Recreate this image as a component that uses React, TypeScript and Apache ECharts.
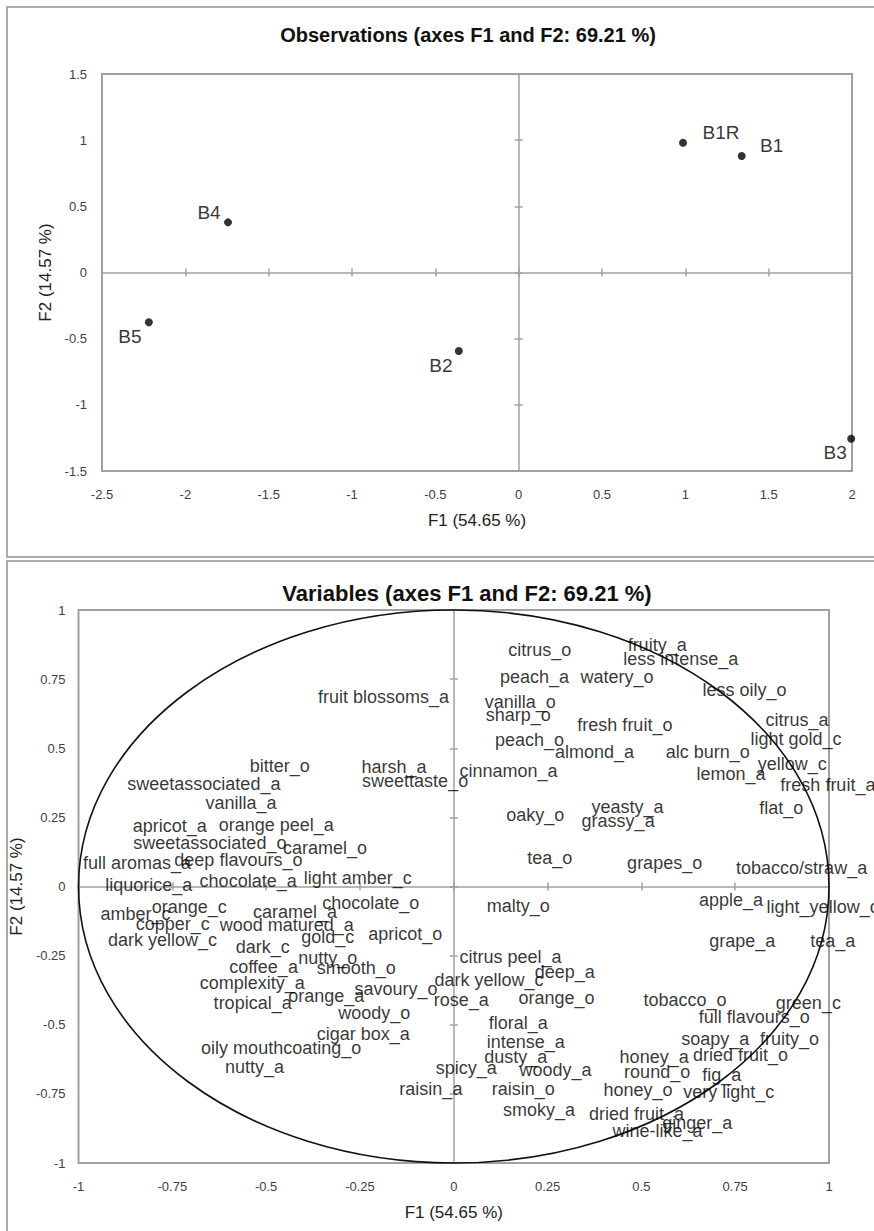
import React, { useEffect, useRef } from 'react';
import * as echarts from 'echarts';

// ---------- Observations (F1, F2 factor scores) ----------
const obsNames = ['B1R', 'B1', 'B4', 'B5', 'B2', 'B3'];
const obsF1 = [0.986, 1.338, -1.744, -2.219, -0.359, 1.995];
const obsF2 = [0.98, 0.88, 0.379, -0.376, -0.593, -1.256];

// ---------- Variables (F1, F2 correlations) ----------
const varNames = [
  'fruit blossoms_a', 'bitter_o', 'sweetassociated_a', 'harsh_a', 'sweettaste_o',
  'vanilla_a', 'apricot_a', 'orange peel_a', 'sweetassociated_o', 'caramel_o',
  'full aromas_a', 'deep flavours_o', 'liquorice_a', 'chocolate_a', 'light amber_c',
  'citrus_o', 'fruity_a', 'less intense_a', 'peach_a', 'watery_o',
  'less oily_o', 'vanilla_o', 'sharp_o', 'fresh fruit_o', 'citrus_a',
  'light gold_c', 'peach_o', 'almond_a', 'alc burn_o', 'yellow_c',
  'cinnamon_a', 'lemon_a', 'fresh fruit_a', 'flat_o', 'oaky_o',
  'yeasty_a', 'grassy_a', 'tea_o', 'grapes_o', 'tobacco/straw_a',
  'chocolate_o', 'amber_c', 'orange_c', 'caramel_a', 'copper_c',
  'wood matured_a', 'dark yellow_c', 'gold_c', 'apricot_o', 'dark_c',
  'nutty_o', 'coffee_a', 'smooth_o', 'complexity_a', 'orange_a',
  'savoury_o', 'tropical_a', 'woody_o', 'cigar box_a', 'oily mouthcoating_o',
  'nutty_a', 'raisin_a', 'spicy_a', 'malty_o', 'apple_a',
  'light_yellow_c', 'grape_a', 'tea_a', 'citrus peel_a', 'deep_a',
  'dark yellow_c', 'rose_a', 'orange_o', 'tobacco_o', 'green_c',
  'floral_a', 'full flavours_o', 'intense_a', 'soapy_a', 'fruity_o',
  'dusty_a', 'honey_a', 'dried fruit_o', 'woody_a', 'round_o',
  'fig_a', 'raisin_o', 'honey_o', 'very light_c', 'smoky_a',
  'dried fruit_a', 'ginger_a', 'wine-like_a',
];
const varF1 = [
  -0.187, -0.464, -0.666, -0.159, -0.103,
  -0.567, -0.757, -0.473, -0.650, -0.343,
  -0.844, -0.574, -0.813, -0.548, -0.256,
  0.229, 0.542, 0.605, 0.215, 0.435,
  0.775, 0.177, 0.172, 0.456, 0.915,
  0.912, 0.202, 0.375, 0.677, 0.902,
  0.146, 0.739, 0.997, 0.873, 0.217,
  0.463, 0.438, 0.256, 0.562, 0.927,
  -0.221, -0.848, -0.705, -0.423, -0.749,
  -0.445, -0.776, -0.336, -0.129, -0.509,
  -0.336, -0.507, -0.260, -0.537, -0.340,
  -0.154, -0.536, -0.212, -0.241, -0.460,
  -0.531, -0.061, 0.033, 0.172, 0.739,
  0.983, 0.769, 1.01, 0.151, 0.296,
  0.094, 0.02, 0.274, 0.616, 0.945,
  0.172, 0.801, 0.192, 0.697, 0.895,
  0.165, 0.534, 0.764, 0.271, 0.542,
  0.714, 0.185, 0.491, 0.733, 0.227,
  0.487, 0.649, 0.543,
];
const varF2 = [
  0.687, 0.434, 0.371, 0.432, 0.38,
  0.301, 0.217, 0.223, 0.156, 0.138,
  0.084, 0.096, 0.005, 0.02, 0.03,
  0.856, 0.874, 0.824, 0.757, 0.757,
  0.711, 0.669, 0.621, 0.585, 0.603,
  0.534, 0.530, 0.486, 0.486, 0.442,
  0.416, 0.406, 0.367, 0.283, 0.259,
  0.287, 0.237, 0.102, 0.086, 0.066,
  -0.061, -0.101, -0.073, -0.091, -0.137,
  -0.139, -0.194, -0.182, -0.173, -0.218,
  -0.258, -0.290, -0.296, -0.350, -0.395,
  -0.371, -0.421, -0.456, -0.532, -0.584,
  -0.652, -0.732, -0.656, -0.069, -0.049,
  -0.075, -0.197, -0.197, -0.256, -0.308,
  -0.339, -0.411, -0.405, -0.411, -0.423,
  -0.492, -0.471, -0.564, -0.553, -0.550,
  -0.616, -0.616, -0.608, -0.664, -0.671,
  -0.683, -0.731, -0.737, -0.743, -0.809,
  -0.821, -0.854, -0.884,
];

// correlation circle radius
const circleRadius = 1;

// axis ranges / tick steps
const obsXRange = [-2.5, 2];
const obsYRange = [-1.5, 1.5];
const obsStep = 0.5;
const varRange = [-1, 1];
const varStep = 0.25;

const titleObs = 'Observations (axes F1 and F2: 69.21 %)';
const titleVar = 'Variables (axes F1 and F2: 69.21 %)';
const nameF1 = 'F1 (54.65 %)';
const nameF2 = 'F2 (14.57 %)';

// label placement (style) for observation points
const obsLabelOffset: Record<string, number[]> = {
  B1R: [38, -10],
  B1: [30, -11],
  B4: [-19, -10],
  B5: [-19, 14],
  B2: [-18, 15],
  B3: [-16, 14],
};

const FONT = '"Liberation Sans", Arial, Helvetica, sans-serif';
const GRAY = '#a0a0a0';

export default function App() {
  const ref = useRef<HTMLDivElement>(null);

  useEffect(() => {
    if (!ref.current) return;
    const chart = echarts.init(ref.current, null, { renderer: 'svg' });

    const tickLabel = { color: '#404040', fontSize: 13, fontFamily: FONT };
    const nameStyle = { color: '#222', fontSize: 17, fontFamily: FONT };

    const mkAxes = (
      dim: 'x' | 'y',
      gridIndex: number,
      range: number[],
      step: number,
      labelMargin: number,
      name: string,
      nameGap: number
    ) => {
      const pos = dim === 'x' ? 'bottom' : 'left';
      const base = { gridIndex, type: 'value', min: range[0], max: range[1], interval: step, position: pos, splitLine: { show: false } };
      return [
        {
          ...base,
          axisLine: { show: false, onZero: false },
          axisTick: { show: false },
          axisLabel: { ...tickLabel, margin: labelMargin },
          name,
          nameLocation: 'middle',
          nameGap,
          nameTextStyle: nameStyle,
        },
        {
          ...base,
          axisLine: { show: true, onZero: true, lineStyle: { color: GRAY, width: 1.5 } },
          axisTick: { show: true, inside: false, length: 4, lineStyle: { color: GRAY, width: 1.5 } },
          axisLabel: { show: false },
        },
        {
          ...base,
          axisLine: { show: false, onZero: true },
          axisTick: { show: true, inside: true, length: 4, lineStyle: { color: GRAY, width: 1.5 } },
          axisLabel: { show: false },
        },
      ];
    };

    const option: any = {
      animation: false,
      backgroundColor: '#fff',
      textStyle: { fontFamily: FONT },
      grid: [
        { left: 102, top: 74, width: 750, height: 397, show: true, borderColor: GRAY, borderWidth: 2 },
        { left: 60, top: 610, width: 769, height: 553, show: true, borderColor: GRAY, borderWidth: 2 },
      ],
      xAxis: [
        ...mkAxes('x', 0, obsXRange, obsStep, 17, nameF1, 41),
        ...mkAxes('x', 1, varRange, varStep, 17, nameF1, 41),
      ],
      yAxis: [
        ...mkAxes('y', 0, obsYRange, obsStep, 15, nameF2, 45),
        ...mkAxes('y', 1, varRange, varStep, 13, nameF2, 25),
      ],
      graphic: [
        {
          type: 'rect', silent: true, z: -10,
          shape: { x: 7, y: 7, width: 900, height: 550 },
          style: { fill: 'none', stroke: '#ababab', lineWidth: 2 },
        },
        {
          type: 'rect', silent: true, z: -10,
          shape: { x: 7, y: 561, width: 900, height: 720 },
          style: { fill: 'none', stroke: '#ababab', lineWidth: 2 },
        },
        {
          type: 'text', x: 468, y: 35,
          style: { text: titleObs, fontSize: 20, fontWeight: 'bold', fontFamily: FONT, fill: '#111', align: 'center', verticalAlign: 'middle' },
        },
        {
          type: 'text', x: 467, y: 593,
          style: { text: titleVar, fontSize: 22, fontWeight: 'bold', fontFamily: FONT, fill: '#111', align: 'center', verticalAlign: 'middle' },
        },
      ],
      series: [
        {
          type: 'scatter',
          xAxisIndex: 0,
          yAxisIndex: 0,
          clip: false,
          symbolSize: 8,
          itemStyle: { color: '#000' },
          z: 5,
          label: {
            show: true,
            position: 'inside',
            formatter: '{b}',
            fontSize: 19,
            color: '#000',
            textBorderWidth: 0,
            fontFamily: FONT,
          },
          data: obsNames.map((n, i) => ({
            name: n,
            value: [obsF1[i], obsF2[i]],
            label: { offset: obsLabelOffset[n] || [0, 0] },
          })),
        },
        {
          type: 'custom',
          xAxisIndex: 3,
          yAxisIndex: 3,
          silent: true,
          clip: false,
          z: 3,
          data: [[0, 0, circleRadius]],
          renderItem: (params: any, api: any) => {
            const r = api.value(2);
            const c = api.coord([api.value(0), api.value(1)]);
            const p = api.coord([api.value(0) + r, api.value(1) + r]);
            return {
              type: 'ellipse',
              shape: { cx: c[0], cy: c[1], rx: Math.abs(p[0] - c[0]), ry: Math.abs(c[1] - p[1]) },
              style: { fill: 'none', stroke: '#111', lineWidth: 1.6 },
            };
          },
        },
        {
          type: 'scatter',
          xAxisIndex: 3,
          yAxisIndex: 3,
          clip: false,
          symbolSize: 1,
          itemStyle: { color: 'rgba(0,0,0,0)' },
          z: 4,
          label: {
            show: true,
            position: 'inside',
            formatter: '{b}',
            fontSize: 18,
            color: '#000',
            textBorderWidth: 0,
            fontFamily: FONT,
          },
          data: varNames.map((n, i) => ({ name: n, value: [varF1[i], varF2[i]] })),
        },
      ],
    };

    chart.setOption(option);
    return () => chart.dispose();
  }, []);

  return (
    <div
      ref={ref}
      style={{ position: 'absolute', left: 0, top: 0, width: 874, height: 1231, background: '#fff' }}
    />
  );
}
